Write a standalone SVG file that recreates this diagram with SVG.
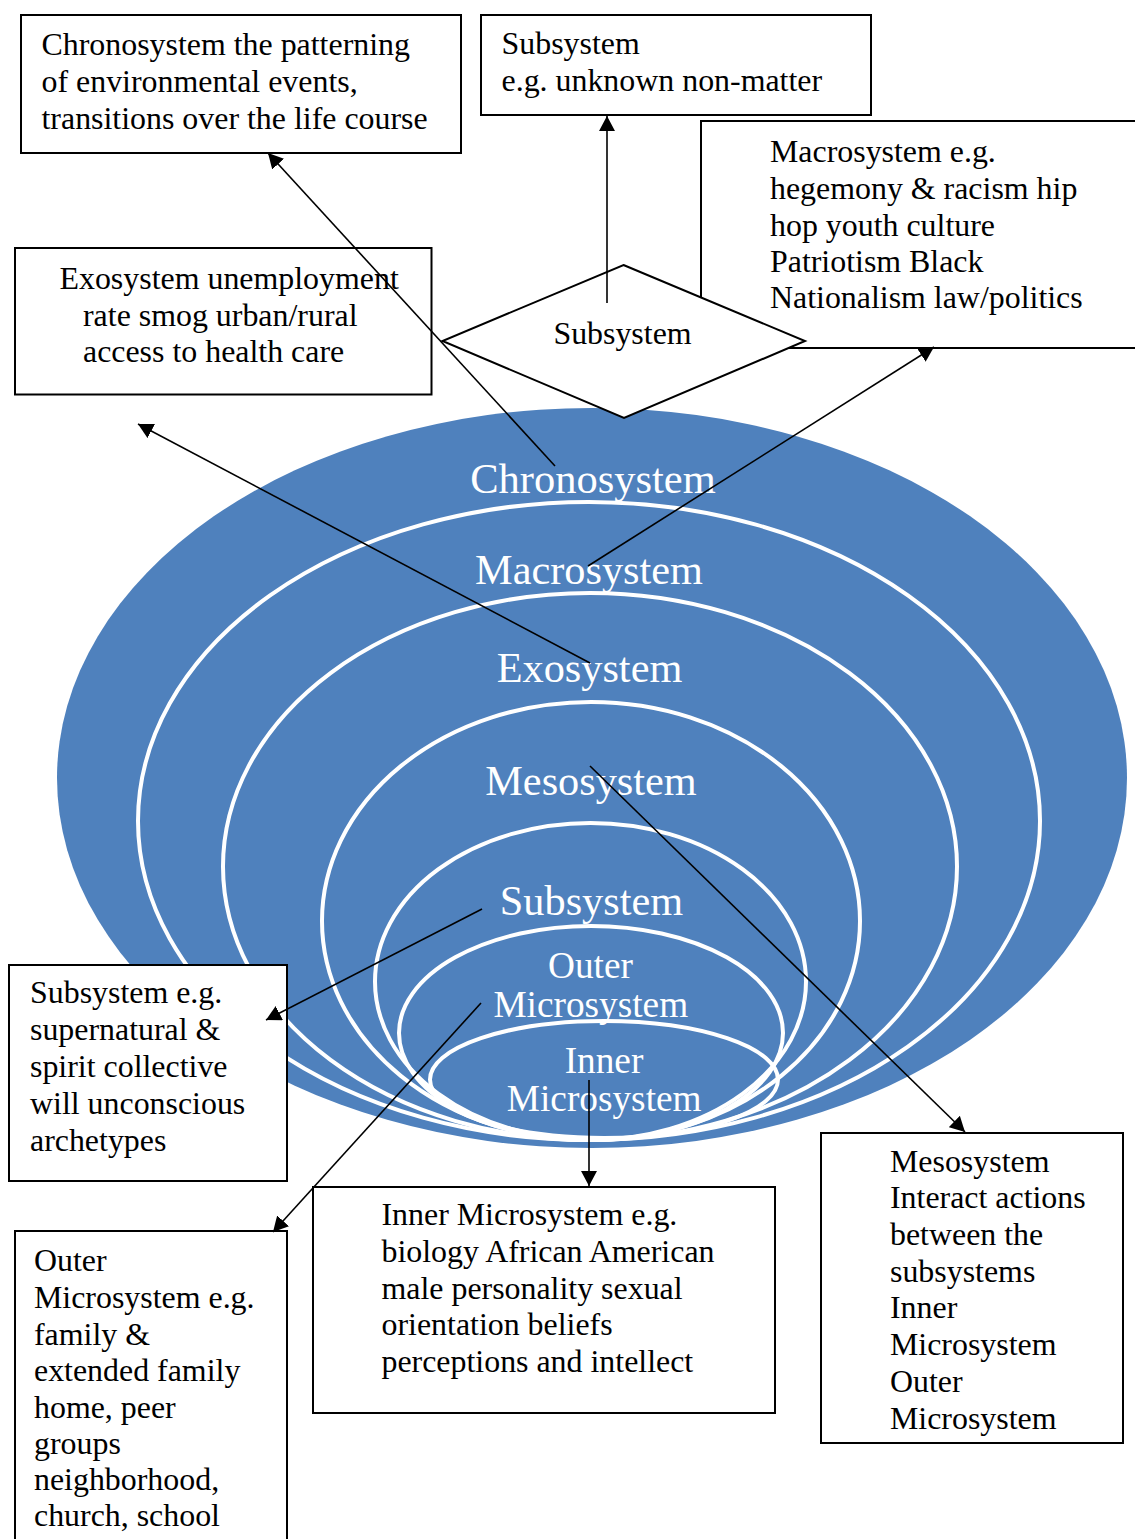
<svg xmlns="http://www.w3.org/2000/svg" width="1135" height="1539" viewBox="0 0 1135 1539">
<style>
.box{fill:#fff;stroke:#000;stroke-width:2}
.t{font-family:"Liberation Serif","Times New Roman",serif;font-size:31.9px;fill:#000}
.w{font-family:"Liberation Serif","Times New Roman",serif;fill:#fff;text-anchor:middle}
.ring{fill:none;stroke:#fff;stroke-width:4}
.c{stroke:#000;stroke-width:1.6;fill:none;marker-end:url(#ah)}
</style>
<defs>
<marker id="ah" markerUnits="userSpaceOnUse" markerWidth="16" markerHeight="16" refX="15" refY="8" orient="auto">
<path d="M0,0 L15,8 L0,16 Z" fill="#000"/>
</marker>
</defs>
<rect width="1135" height="1539" fill="#fff"/>
<g id="ecosystem">
<ellipse cx="592" cy="778" rx="535" ry="370" fill="#4F81BD"/>
<ellipse class="ring" cx="589" cy="821" rx="451" ry="319"/>
<ellipse class="ring" cx="590" cy="866.5" rx="367" ry="273.5"/>
<ellipse class="ring" cx="591" cy="921" rx="269" ry="219"/>
<ellipse class="ring" cx="590.5" cy="981.5" rx="215.5" ry="158.5"/>
<ellipse class="ring" cx="591" cy="1033" rx="192" ry="107"/>
<ellipse class="ring" cx="604" cy="1079.5" rx="174" ry="58.5"/>
<text class="w" x="593" y="493" font-size="42.5">Chronosystem</text>
<text class="w" x="589" y="584" font-size="42.3">Macrosystem</text>
<text class="w" x="589.5" y="682" font-size="42.3">Exosystem</text>
<text class="w" x="591" y="795" font-size="42.3">Mesosystem</text>
<text class="w" x="591.5" y="915" font-size="42.3">Subsystem</text>
<text class="w" x="590.5" y="978" font-size="37.3">Outer</text>
<text class="w" x="590.8" y="1016.5" font-size="37.3">Microsystem</text>
<text class="w" x="604" y="1072.5" font-size="37.3">Inner</text>
<text class="w" x="604.2" y="1110.5" font-size="37.3">Microsystem</text>
</g>
<g id="chronosystem-box">
<rect class="box" x="21" y="15" width="440" height="138"/>
<text class="t" x="41.5" y="55">Chronosystem the patterning</text>
<text class="t" x="41.5" y="92">of environmental events,</text>
<text class="t" x="41.5" y="128.5">transitions over the life course</text>
</g>
<g id="subsystem-top-box">
<rect class="box" x="481" y="15" width="390" height="100"/>
<text class="t" x="501.5" y="54">Subsystem</text>
<text class="t" x="501.5" y="91">e.g. unknown non-matter</text>
</g>
<g id="macrosystem-box">
<rect class="box" x="701" y="121" width="460" height="227"/>
<text class="t" x="770" y="162">Macrosystem e.g.</text>
<text class="t" x="770" y="199">hegemony &amp; racism hip</text>
<text class="t" x="770" y="235.5">hop youth culture</text>
<text class="t" x="770" y="272">Patriotism Black</text>
<text class="t" x="770" y="308">Nationalism law/politics</text>
</g>
<g id="exosystem-box">
<rect class="box" x="15" y="248" width="416.5" height="146.5"/>
<text class="t" x="59.5" y="288.5">Exosystem unemployment</text>
<text class="t" x="83" y="325.5">rate smog urban/rural</text>
<text class="t" x="83" y="362">access to health care</text>
</g>
<g id="subsystem-diamond">
<polygon points="623.5,265 805,341 624,418 442.5,341" fill="#fff" stroke="#000" stroke-width="2"/>
<text class="t" x="622.5" y="343.5" text-anchor="middle">Subsystem</text>
</g>
<g id="subsystem-box">
<rect class="box" x="9" y="965" width="278" height="216"/>
<text class="t" x="30" y="1003">Subsystem e.g.</text>
<text class="t" x="30" y="1040">supernatural &amp;</text>
<text class="t" x="30" y="1077">spirit collective</text>
<text class="t" x="30" y="1114">will unconscious</text>
<text class="t" x="30" y="1151">archetypes</text>
</g>
<g id="outer-microsystem-box">
<rect class="box" x="15" y="1231" width="272" height="330"/>
<text class="t" x="34" y="1271">Outer</text>
<text class="t" x="34" y="1308">Microsystem e.g.</text>
<text class="t" x="34" y="1344.5">family &amp;</text>
<text class="t" x="34" y="1381">extended family</text>
<text class="t" x="34" y="1417.5">home, peer</text>
<text class="t" x="34" y="1453.5">groups</text>
<text class="t" x="34" y="1489.5">neighborhood,</text>
<text class="t" x="34" y="1526">church, school</text>
</g>
<g id="inner-microsystem-box">
<rect class="box" x="313" y="1187" width="462" height="226"/>
<text class="t" x="381.5" y="1225">Inner Microsystem e.g.</text>
<text class="t" x="381.5" y="1262">biology African American</text>
<text class="t" x="381.5" y="1298.5">male personality sexual</text>
<text class="t" x="381.5" y="1335">orientation beliefs</text>
<text class="t" x="381.5" y="1372">perceptions and intellect</text>
</g>
<g id="mesosystem-box">
<rect class="box" x="821" y="1133" width="302" height="310"/>
<text class="t" x="890" y="1171.5">Mesosystem</text>
<text class="t" x="890" y="1208">Interact actions</text>
<text class="t" x="890" y="1245">between the</text>
<text class="t" x="890" y="1281.5">subsystems</text>
<text class="t" x="890" y="1318">Inner</text>
<text class="t" x="890" y="1355">Microsystem</text>
<text class="t" x="890" y="1392">Outer</text>
<text class="t" x="890" y="1428.5">Microsystem</text>
</g>
<g id="connectors">
<line class="c" x1="607" y1="303" x2="607" y2="116"/>
<line class="c" x1="555" y1="466" x2="268" y2="153"/>
<line class="c" x1="588" y1="566" x2="934" y2="347"/>
<line class="c" x1="590" y1="663" x2="138" y2="424"/>
<line class="c" x1="590" y1="766" x2="965" y2="1132"/>
<line class="c" x1="482" y1="909" x2="266" y2="1020"/>
<line class="c" x1="481" y1="1003" x2="273" y2="1232"/>
<line class="c" x1="589" y1="1080" x2="589" y2="1186"/>
</g>
</svg>
